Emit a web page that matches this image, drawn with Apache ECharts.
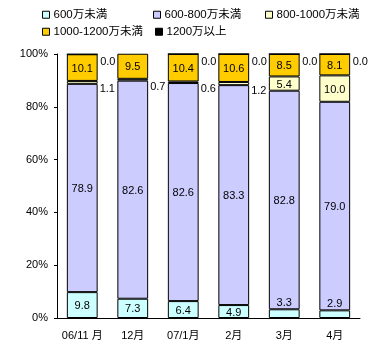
<!DOCTYPE html>
<html>
<head>
<meta charset="utf-8">
<script src="https://cdn.jsdelivr.net/npm/echarts@6/dist/echarts.min.js"></script>
<style>
  body { margin: 0; background: #fff; }
  #chart { width: 377px; height: 352px; }
</style>
</head>
<body>
<div id="chart"></div>
<script>
// 月ラベル
var months = ['06/11 月', '12月', '07/1月', '2月', '3月', '4月']
var seriesNames = ['600万未満', '600-800万未満', '800-1000万未満', '1000-1200万未満', '1200万以上']
// 各階層の比率(%)
var under600 = [9.8, 7.3, 6.4, 4.9, 3.3, 2.9]
var from600to800 = [78.9, 82.6, 82.6, 83.3, 82.8, 79.0]
var from800to1000 = [1.1, 0.7, 0.6, 1.2, 5.4, 10.0]
var from1000to1200 = [10.1, 9.5, 10.4, 10.6, 8.5, 8.1]
var over1200 = [0.0, 0.0, 0.0, 0.0, 0.0, 0.0]
var yTicks = ['0%', '20%', '40%', '60%', '80%', '100%']

var colors = ['#CCFFFF', '#CCCCFF', '#FFFFCC', '#FFCC00', '#000000']
var font = 'Arial, "Liberation Sans", "Noto Sans CJK JP", sans-serif'

// ラベル位置: 小さい値は棒の外に出す
function makeData(values, idx) {
  return values.map(function (v) {
    var item = { value: v }
    if (idx === 0 && v < 4) {
      item.label = { position: 'top', distance: 2 }
    }
    if (idx === 2 && v < 2) {
      item.label = { position: 'right', distance: 2, offset: [0, 7] }
    }
    return item
  })
}

var allValues = [under600, from600to800, from800to1000, from1000to1200, over1200]
var series = allValues.map(function (vals, i) {
  var pos = i === 4 ? 'right' : 'inside'
  return {
    name: seriesNames[i],
    type: 'bar',
    stack: 'total',
    barWidth: '61%',
    data: makeData(vals, i),
    itemStyle: { color: colors[i], borderColor: '#000', borderWidth: 1 },
    label: {
      show: true,
      position: pos,
      distance: 2,
      offset: i === 4 ? [0, 8] : [0, 1],
      color: '#000',
      fontSize: 11,
      fontFamily: font,
      formatter: function (p) { return p.value.toFixed(1) }
    }
  }
})

function legendAt(name, left, top) {
  return {
    data: [name],
    left: left,
    top: top,
    padding: 0,
    icon: 'rect',
    itemWidth: 7,
    itemHeight: 7,
    itemGap: 0,
    itemStyle: { borderColor: '#000', borderWidth: 1 },
    textStyle: { color: '#000', fontSize: 11.5, fontFamily: font, padding: [0, 0, 0, -1] },
    selectedMode: false
  }
}

var chart = echarts.init(document.getElementById('chart'), null, { renderer: 'canvas' })
chart.setOption({
  animation: false,
  backgroundColor: '#fff',
  legend: [
    legendAt(seriesNames[0], 42, 9),
    legendAt(seriesNames[1], 153, 9),
    legendAt(seriesNames[2], 265, 9),
    legendAt(seriesNames[3], 42, 26),
    legendAt(seriesNames[4], 155, 26)
  ],
  grid: { left: 57, right: 17, top: 54, bottom: 34 },
  xAxis: {
    type: 'category',
    data: months,
    axisLine: { lineStyle: { color: '#000', width: 1 } },
    axisTick: { inside: true, length: 3, lineStyle: { color: '#000' } },
    axisLabel: { interval: 0, color: '#000', fontSize: 11, fontFamily: font, margin: 12 }
  },
  yAxis: {
    type: 'value',
    min: 0,
    max: 100,
    interval: 20,
    splitLine: { show: false },
    axisLine: { show: true, lineStyle: { color: '#000', width: 1 } },
    axisTick: { show: true, length: 3, lineStyle: { color: '#000' } },
    axisLabel: {
      color: '#000', fontSize: 11, fontFamily: font, margin: 9,
      formatter: function (v) { return yTicks[v / 20] }
    }
  },
  series: series
})
</script>
</body>
</html>
